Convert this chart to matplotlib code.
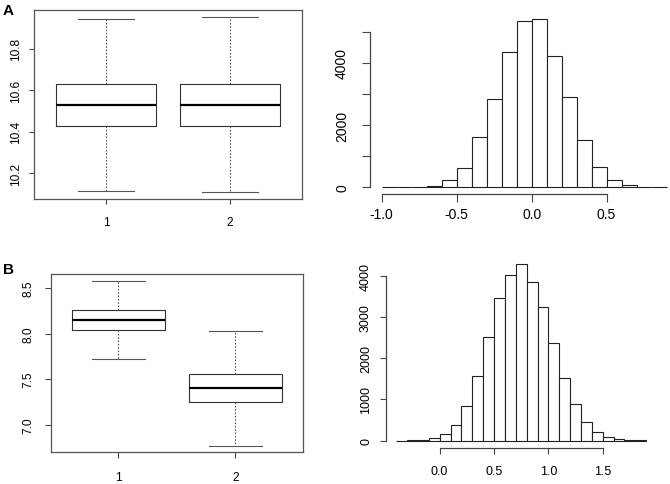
import matplotlib
matplotlib.use("Agg")
import matplotlib.pyplot as plt
import numpy as np

plt.rcParams['font.family'] = ['Liberation Sans', 'DejaVu Sans']

# --- A: boxplot (group 1, group 2) ---
a_box_labels = ['1', '2']
a_whislo = [10.117, 10.110]
a_q1 = [10.427, 10.427]
a_med = [10.531, 10.531]
a_q3 = [10.632, 10.633]
a_whishi = [10.945, 10.954]
a_yticks = [10.2, 10.4, 10.6, 10.8]

# --- A: histogram of differences ---
a_edges = np.round(np.arange(-1.0, 0.91, 0.1), 2)
a_counts = [3, 5, 15, 50, 225, 620, 1615, 2835, 4333, 5350,
            5415, 4225, 2910, 1510, 650, 235, 65, 15, 3]
a_hist_xticks = [-1.0, -0.5, 0.0, 0.5]
a_hist_yticks = [0, 1000, 2000, 3000, 4000, 5000]
a_hist_ylabels = ['0', '', '2000', '', '4000', '']

# --- B: boxplot ---
b_box_labels = ['1', '2']
b_whislo = [7.718, 6.770]
b_q1 = [8.036, 7.245]
b_med = [8.153, 7.401]
b_q3 = [8.255, 7.559]
b_whishi = [8.580, 8.025]
b_yticks = [7.0, 7.5, 8.0, 8.5]

# --- B: histogram ---
b_edges = np.round(np.arange(-0.4, 1.91, 0.1), 2)
b_counts = [2, 5, 15, 55, 170, 372, 842, 1571, 2526, 3457, 4016, 4283,
            3846, 3247, 2364, 1530, 883, 453, 202, 89, 32, 12, 5]
b_hist_xticks = [0.0, 0.5, 1.0, 1.5]
b_hist_yticks = [0, 1000, 2000, 3000, 4000]

W, H = 670, 485
fig = plt.figure(figsize=(W / 100, H / 100), dpi=100)


def place(left, top, right, bottom):
    # pixel box -> figure fraction
    return fig.add_axes([left / W, 1 - bottom / H, (right - left) / W, (bottom - top) / H])


def rlim(lo, hi):
    # R style 4% padding
    d = (hi - lo) * 0.04
    return lo - d, hi + d


def boxpanel(ax, labels, wlo, q1, med, q3, whi, yticks, fs, tl, xpad, ypad):
    stats = []
    for i in range(len(labels)):
        stats.append(dict(label=labels[i], whislo=wlo[i], q1=q1[i], med=med[i],
                          q3=q3[i], whishi=whi[i], fliers=[]))
    ax.bxp(stats, positions=[1, 2], widths=0.8, showfliers=False,
           boxprops=dict(color='#333333', lw=0.8),
           medianprops=dict(color='black', lw=1.6),
           whiskerprops=dict(color='#555555', lw=0.8, linestyle=(0, (1.5, 1.5))),
           capprops=dict(color='#555555', lw=0.8), capwidths=0.45)
    ax.set_xlim(0.42, 2.58)
    ax.set_ylim(*rlim(min(wlo), max(whi)))
    ax.set_yticks(yticks)
    ax.set_yticklabels([f'{t:.1f}' for t in yticks], rotation=90, va='center')
    for s in ax.spines.values():
        s.set_color('#555555')
        s.set_linewidth(0.9)
    ax.tick_params(length=tl, width=0.8, color='#444444', labelsize=fs)
    ax.tick_params(axis='x', pad=xpad)
    ax.tick_params(axis='y', pad=ypad)


def histpanel(ax, edges, counts, xticks, yticks, ylabels, fs, tl, xpad, ypad):
    ax.bar(edges[:-1], counts, width=0.1, align='edge', color='white',
           edgecolor='#222222', linewidth=0.8)
    ax.set_xlim(*rlim(edges[0], edges[-1]))
    ax.set_ylim(*rlim(0, max(counts)))
    ax.spines['top'].set_visible(False)
    ax.spines['right'].set_visible(False)
    ax.spines['left'].set_bounds(yticks[0], yticks[-1])
    ax.spines['bottom'].set_bounds(xticks[0], xticks[-1])
    for s in ('left', 'bottom'):
        ax.spines[s].set_color('#444444')
        ax.spines[s].set_linewidth(0.9)
    ax.set_xticks(xticks)
    ax.set_xticklabels([f'{t:.1f}' for t in xticks])
    ax.set_yticks(yticks)
    ax.set_yticklabels(ylabels, rotation=90, va='center')
    ax.tick_params(length=tl, width=0.8, color='#444444', labelsize=fs)
    ax.tick_params(axis='x', pad=xpad)
    ax.tick_params(axis='y', pad=ypad)


ax1 = place(34, 11, 302, 200)
boxpanel(ax1, a_box_labels, a_whislo, a_q1, a_med, a_q3, a_whishi, a_yticks,
         8.6, 3.6, 8.6, 5)

ax2 = place(370.3, 12.9, 678, 195)
histpanel(ax2, a_edges, a_counts, a_hist_xticks, a_hist_yticks, a_hist_ylabels,
          10, 5.8, 3.6, 9.5)

ax3 = place(50.7, 275, 303, 453.3)
boxpanel(ax3, b_box_labels, b_whislo, b_q1, b_med, b_q3, b_whishi, b_yticks,
         8.6, 4.5, 9, 7)

ax4 = place(386.2, 258.2, 656.2, 448.7)
histpanel(ax4, b_edges, b_counts, b_hist_xticks, b_hist_yticks,
          [str(t) for t in b_hist_yticks], 9, 4, 8.5, 6.2)

fig.text(3 / W, 1 - 11 / H, 'A', fontsize=11, fontweight='bold', va='center', ha='left')
fig.text(3 / W, 1 - 270 / H, 'B', fontsize=11, fontweight='bold', va='center', ha='left')

fig.savefig('out.png', dpi=100)
